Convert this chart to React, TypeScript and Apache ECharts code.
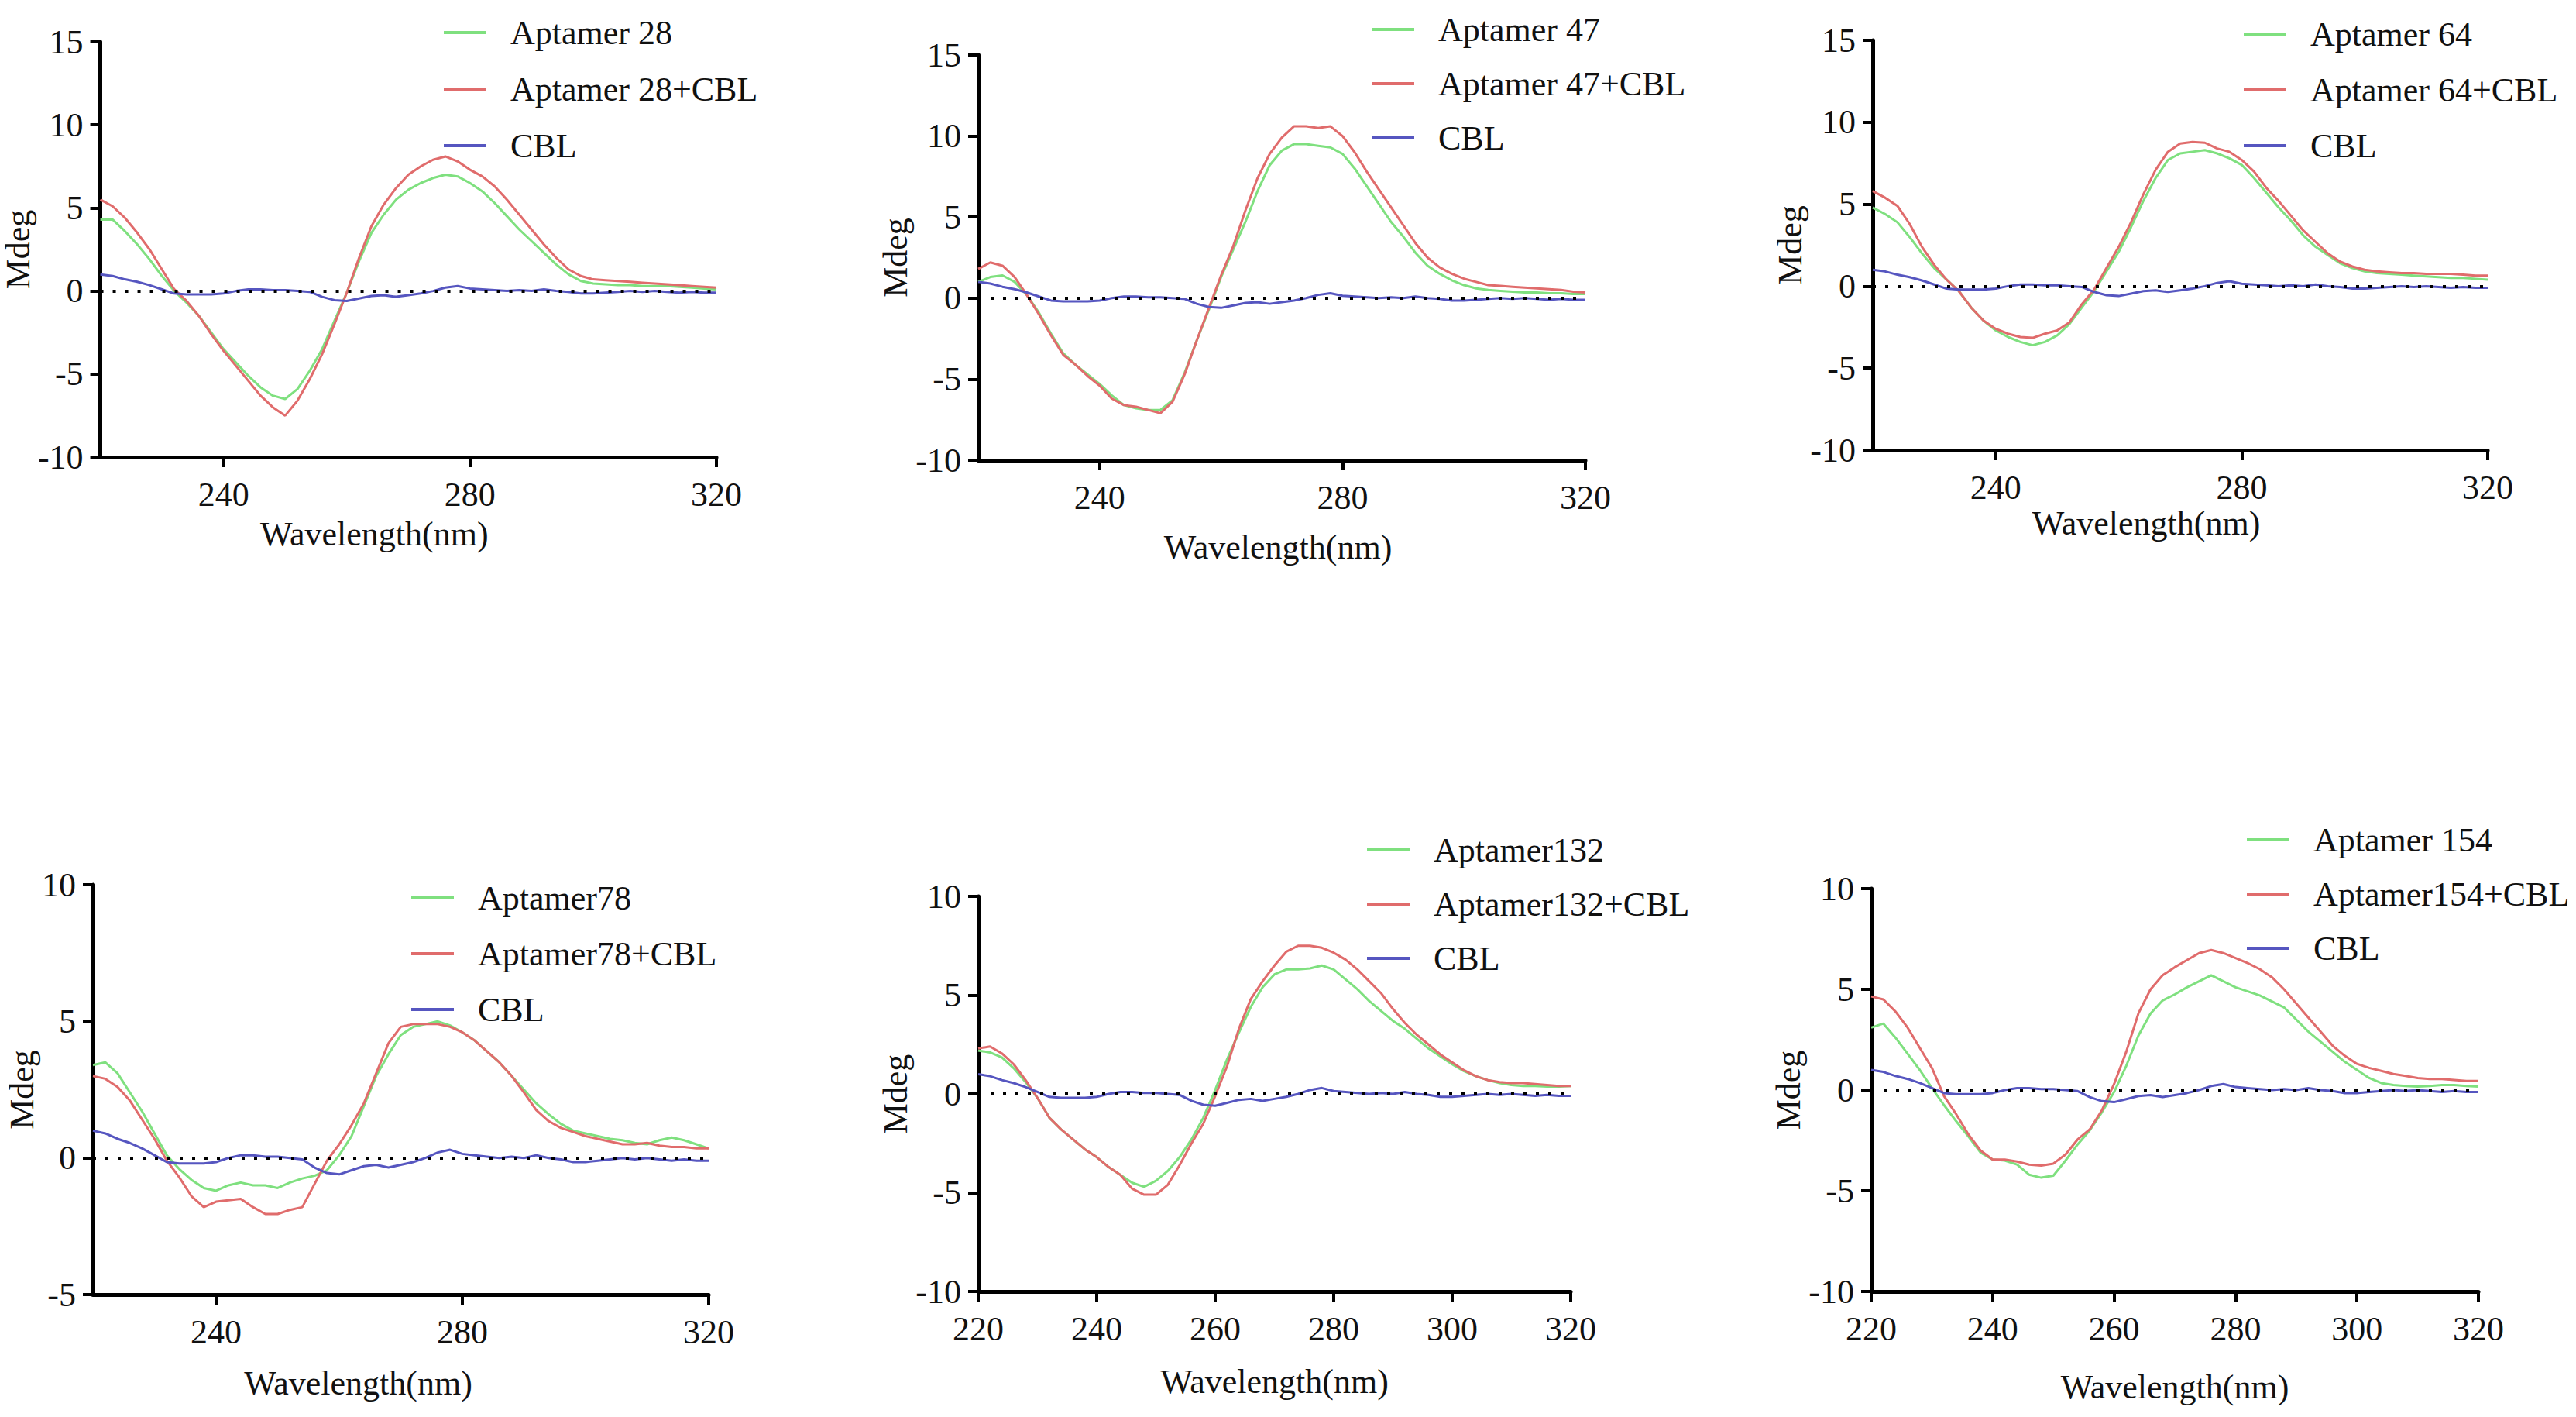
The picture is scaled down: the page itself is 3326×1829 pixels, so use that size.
import { useEffect, useRef } from "react";
import * as echarts from "echarts";

// wavelength grid (nm)
const wavelengths = [
  220, 222, 224, 226, 228, 230, 232, 234, 236, 238, 240, 242, 244, 246, 248, 250, 252,
  254, 256, 258, 260, 262, 264, 266, 268, 270, 272, 274, 276, 278, 280, 282, 284, 286,
  288, 290, 292, 294, 296, 298, 300, 302, 304, 306, 308, 310, 312, 314, 316, 318, 320,
];

// CBL alone, same trace in every panel
const cbl = [
  1.0, 0.9, 0.7, 0.55, 0.35, 0.1, -0.15, -0.2, -0.2, -0.2, -0.15, 0.0, 0.1, 0.1, 0.05, 0.05, 0.0,
  -0.05, -0.35, -0.55, -0.6, -0.45, -0.3, -0.25, -0.35, -0.25, -0.15, 0.0, 0.2, 0.3, 0.15, 0.1, 0.05, 0.0,
  0.05, 0.0, 0.1, 0.0, -0.05, -0.15, -0.15, -0.1, -0.05, 0.0, -0.05, 0.0, -0.05, -0.1, -0.05, -0.1, -0.1,
];

const apt28 = [
  4.3, 4.3, 3.6, 2.8, 1.9, 0.9, 0.0, -0.7, -1.5, -2.5, -3.5, -4.3, -5.1, -5.8, -6.3, -6.5, -5.9,
  -4.8, -3.5, -1.8, -0.1, 1.8, 3.5, 4.6, 5.5, 6.1, 6.5, 6.8, 7.0, 6.9, 6.5, 6.0, 5.3, 4.5,
  3.7, 3.0, 2.3, 1.6, 1.0, 0.6, 0.45, 0.4, 0.35, 0.35, 0.3, 0.3, 0.3, 0.25, 0.2, 0.15, 0.1,
];
const apt28Cbl = [
  5.5, 5.1, 4.4, 3.5, 2.5, 1.3, 0.1, -0.6, -1.5, -2.6, -3.6, -4.5, -5.4, -6.3, -7.0, -7.5, -6.6,
  -5.3, -3.8, -2.0, -0.1, 2.0, 3.9, 5.2, 6.2, 7.0, 7.5, 7.9, 8.1, 7.8, 7.3, 6.9, 6.3, 5.5,
  4.6, 3.7, 2.8, 2.0, 1.3, 0.9, 0.7, 0.65, 0.6, 0.55, 0.5, 0.45, 0.4, 0.35, 0.3, 0.25, 0.2,
];

const apt47 = [
  1.0, 1.3, 1.4, 1.0, 0.2, -0.9, -2.2, -3.4, -4.1, -4.7, -5.3, -6.0, -6.6, -6.8, -6.9, -6.9, -6.3,
  -4.6, -2.6, -0.7, 1.3, 3.0, 4.7, 6.6, 8.2, 9.1, 9.5, 9.5, 9.4, 9.3, 8.9, 8.0, 6.9, 5.8,
  4.7, 3.8, 2.8, 2.0, 1.5, 1.1, 0.8, 0.6, 0.5, 0.45, 0.4, 0.35, 0.35, 0.3, 0.3, 0.25, 0.25,
];
const apt47Cbl = [
  1.8, 2.2, 2.0, 1.3, 0.2, -1.0, -2.3, -3.5, -4.1, -4.8, -5.4, -6.2, -6.6, -6.7, -6.9, -7.1, -6.4,
  -4.7, -2.6, -0.6, 1.4, 3.2, 5.4, 7.4, 8.9, 9.9, 10.6, 10.6, 10.5, 10.6, 10.0, 9.0, 7.8, 6.7,
  5.6, 4.5, 3.4, 2.5, 1.9, 1.5, 1.2, 1.0, 0.8, 0.75, 0.7, 0.65, 0.6, 0.55, 0.5, 0.4, 0.35,
];

const apt64 = [
  4.8, 4.4, 3.9, 3.0, 2.0, 1.1, 0.4, -0.3, -1.3, -2.1, -2.7, -3.1, -3.4, -3.6, -3.4, -3.0, -2.3,
  -1.3, -0.3, 0.9, 2.1, 3.6, 5.2, 6.6, 7.7, 8.1, 8.2, 8.3, 8.1, 7.8, 7.4, 6.6, 5.7, 4.8,
  4.0, 3.1, 2.4, 1.9, 1.4, 1.1, 0.9, 0.8, 0.75, 0.7, 0.65, 0.6, 0.55, 0.5, 0.5, 0.45, 0.4,
];
const apt64Cbl = [
  5.8, 5.4, 4.9, 3.8, 2.4, 1.3, 0.4, -0.3, -1.3, -2.1, -2.6, -2.9, -3.1, -3.15, -2.9, -2.7, -2.2,
  -1.1, -0.2, 1.1, 2.4, 3.9, 5.6, 7.1, 8.2, 8.7, 8.8, 8.75, 8.4, 8.2, 7.7, 7.0, 6.0, 5.2,
  4.3, 3.4, 2.7, 2.0, 1.5, 1.2, 1.0, 0.9, 0.85, 0.8, 0.8, 0.75, 0.75, 0.75, 0.7, 0.65, 0.65,
];

const apt78 = [
  3.4, 3.5, 3.1, 2.4, 1.7, 0.9, 0.1, -0.4, -0.8, -1.1, -1.2, -1.0, -0.9, -1.0, -1.0, -1.1, -0.9,
  -0.75, -0.65, -0.45, 0.1, 0.8, 1.9, 3.0, 3.8, 4.5, 4.8, 4.9, 5.0, 4.85, 4.6, 4.3, 3.9, 3.5,
  3.0, 2.5, 2.0, 1.6, 1.25, 1.0, 0.9, 0.8, 0.7, 0.65, 0.55, 0.5, 0.65, 0.75, 0.65, 0.5, 0.35,
];
const apt78Cbl = [
  3.0, 2.9, 2.6, 2.1, 1.4, 0.7, -0.1, -0.7, -1.4, -1.8, -1.6, -1.55, -1.5, -1.8, -2.05, -2.05, -1.9,
  -1.8, -0.95, -0.1, 0.5, 1.2, 2.0, 3.1, 4.2, 4.8, 4.9, 4.9, 4.9, 4.8, 4.6, 4.3, 3.9, 3.5,
  3.0, 2.4, 1.75, 1.35, 1.1, 0.95, 0.8, 0.7, 0.6, 0.5, 0.5, 0.55, 0.45, 0.4, 0.4, 0.35, 0.35,
];

const apt132 = [
  2.2, 2.1, 1.85, 1.3, 0.6, -0.2, -1.2, -1.8, -2.3, -2.8, -3.2, -3.7, -4.1, -4.5, -4.7, -4.4, -3.9,
  -3.2, -2.3, -1.2, 0.2, 1.75, 3.1, 4.4, 5.4, 6.05, 6.3, 6.3, 6.35, 6.5, 6.3, 5.8, 5.3, 4.7,
  4.2, 3.7, 3.3, 2.8, 2.3, 1.9, 1.5, 1.15, 0.9, 0.7, 0.55, 0.45, 0.4, 0.4, 0.37, 0.37, 0.4,
];
const apt132Cbl = [
  2.3, 2.4, 2.05, 1.5, 0.7, -0.2, -1.2, -1.8, -2.3, -2.8, -3.2, -3.7, -4.1, -4.8, -5.1, -5.1, -4.6,
  -3.6, -2.5, -1.5, -0.1, 1.4, 3.3, 4.8, 5.7, 6.5, 7.2, 7.5, 7.5, 7.4, 7.15, 6.8, 6.3, 5.7,
  5.1, 4.3, 3.6, 3.0, 2.5, 2.0, 1.6, 1.2, 0.9, 0.7, 0.6, 0.55, 0.55, 0.5, 0.45, 0.4, 0.4,
];

const apt154 = [
  3.1, 3.3, 2.6, 1.8, 1.0, 0.1, -0.75, -1.55, -2.3, -3.1, -3.45, -3.5, -3.7, -4.2, -4.35, -4.25, -3.5,
  -2.7, -2.0, -1.1, -0.1, 1.2, 2.7, 3.8, 4.45, 4.75, 5.1, 5.4, 5.7, 5.4, 5.1, 4.9, 4.7, 4.4,
  4.1, 3.5, 2.9, 2.4, 1.9, 1.4, 1.0, 0.6, 0.35, 0.25, 0.2, 0.17, 0.2, 0.25, 0.25, 0.2, 0.17,
];
const apt154Cbl = [
  4.65, 4.5, 3.9, 3.1, 2.1, 1.1, -0.3, -1.2, -2.2, -3.0, -3.45, -3.45, -3.55, -3.7, -3.75, -3.65, -3.2,
  -2.45, -1.95, -1.0, 0.3, 1.9, 3.8, 5.0, 5.7, 6.1, 6.45, 6.8, 6.95, 6.8, 6.55, 6.3, 6.0, 5.6,
  5.0, 4.3, 3.6, 2.9, 2.2, 1.7, 1.3, 1.1, 0.95, 0.8, 0.7, 0.6, 0.55, 0.55, 0.5, 0.45, 0.45,
];

const sparseTicks = [240, 280, 320];
const fullTicks = [220, 240, 260, 280, 300, 320];

const GREEN = "#7fe07f";
const RED = "#e06c6c";
const BLUE = "#5656c0";
const FONT = "Liberation Serif";

const panels = [
  {
    grid: { left: 120, top: 54, width: 805, height: 536 },
    y: [-10, 15], ticks: sparseTicks,
    names: ["Aptamer 28", "Aptamer 28+CBL", "CBL"], green: apt28, red: apt28Cbl,
    legend: { left: 568, top: 15, gap: 29 }, xGap: 77, xShift: 44, yGap: 57,
  },
  {
    grid: { left: 1263, top: 71, width: 784, height: 523 },
    y: [-10, 15], ticks: sparseTicks,
    names: ["Aptamer 47", "Aptamer 47+CBL", "CBL"], green: apt47, red: apt47Cbl,
    legend: { left: 1766, top: 11, gap: 26 }, xGap: 90, xShift: 5, yGap: 55,
  },
  {
    grid: { left: 2418, top: 52, width: 794, height: 529 },
    y: [-10, 15], ticks: sparseTicks,
    names: ["Aptamer 64", "Aptamer 64+CBL", "CBL"], green: apt64, red: apt64Cbl,
    legend: { left: 2892, top: 17, gap: 28 }, xGap: 72, xShift: 44, yGap: 60,
  },
  {
    grid: { left: 120, top: 1142, width: 795, height: 529 },
    y: [-5, 10], ticks: sparseTicks,
    names: ["Aptamer78", "Aptamer78+CBL", "CBL"], green: apt78, red: apt78Cbl,
    legend: { left: 526, top: 1132, gap: 28 }, xGap: 92, xShift: 55, yGap: 60,
  },
  {
    grid: { left: 1263, top: 1157, width: 765, height: 510 },
    y: [-10, 10], ticks: fullTicks,
    names: ["Aptamer132", "Aptamer132+CBL", "CBL"], green: apt132, red: apt132Cbl,
    legend: { left: 1760, top: 1070, gap: 26 }, xGap: 94, xShift: 0, yGap: 58,
  },
  {
    grid: { left: 2416, top: 1147, width: 784, height: 520 },
    y: [-10, 10], ticks: fullTicks,
    names: ["Aptamer 154", "Aptamer154+CBL", "CBL"], green: apt154, red: apt154Cbl,
    legend: { left: 2896, top: 1057, gap: 26 }, xGap: 101, xShift: 0, yGap: 55,
  },
];

const toPairs = (values: number[]) => wavelengths.map((w, i) => [w, values[i]]);

export default function App() {
  const chartRef = useRef<HTMLDivElement>(null);

  useEffect(() => {
    if (!chartRef.current) return;
    document.body.style.margin = "0";

    const chart = echarts.init(chartRef.current, null, { renderer: "svg" });

    const axisLine = { show: true, onZero: false, lineStyle: { color: "#000", width: 5 } };
    const axisTick = { show: true, length: 13, lineStyle: { color: "#000", width: 4 } };
    const labelStyle = { fontFamily: FONT, fontSize: 44, color: "#111" };

    const grids: any[] = [];
    const xAxes: any[] = [];
    const yAxes: any[] = [];
    const legends: any[] = [];
    const series: any[] = [];

    panels.forEach((p, idx) => {
      grids.push({ ...p.grid, containLabel: false });
      xAxes.push({
        gridIndex: idx,
        type: "value",
        min: 220,
        max: 320,
        interval: 20,
        name: "Wavelength(nm)",
        nameLocation: "middle",
        nameGap: p.xGap,
        nameTextStyle: { ...labelStyle, padding: [0, p.xShift * 2, 0, 0] },
        axisLine,
        axisTick: { ...axisTick, customValues: p.ticks },
        axisLabel: { ...labelStyle, margin: 26, customValues: p.ticks },
        splitLine: { show: false },
      });
      yAxes.push({
        gridIndex: idx,
        type: "value",
        min: p.y[0],
        max: p.y[1],
        interval: 5,
        name: "Mdeg",
        nameLocation: "middle",
        nameGap: p.yGap,
        nameTextStyle: labelStyle,
        axisLine,
        axisTick,
        axisLabel: { ...labelStyle, margin: 22 },
        splitLine: { show: false },
      });
      legends.push({
        orient: "vertical",
        left: p.legend.left,
        top: p.legend.top,
        icon: "rect",
        itemWidth: 55,
        itemHeight: 4,
        itemGap: p.legend.gap,
        selectedMode: false,
        data: p.names,
        textStyle: { ...labelStyle, padding: [0, 0, 0, 26] },
      });

      const base = { type: "line", xAxisIndex: idx, yAxisIndex: idx, symbol: "none", silent: true };
      series.push({ ...base, name: p.names[0], data: toPairs(p.green), lineStyle: { color: GREEN, width: 3 }, itemStyle: { color: GREEN } });
      series.push({ ...base, name: p.names[1], data: toPairs(p.red), lineStyle: { color: RED, width: 3 }, itemStyle: { color: RED } });
      series.push({
        ...base,
        name: p.names[2],
        data: toPairs(cbl),
        lineStyle: { color: BLUE, width: 3 },
        itemStyle: { color: BLUE },
        markLine: {
          silent: true,
          symbol: "none",
          label: { show: false },
          lineStyle: { color: "#000", type: [4, 12], width: 4 },
          data: [{ yAxis: 0 }],
        },
      });
    });

    chart.setOption({
      animation: false,
      backgroundColor: "#fff",
      grid: grids,
      xAxis: xAxes,
      yAxis: yAxes,
      legend: legends,
      series,
    });

    const handleResize = () => chart.resize();
    window.addEventListener("resize", handleResize);

    return () => {
      window.removeEventListener("resize", handleResize);
      chart.dispose();
    };
  }, []);

  return <div ref={chartRef} style={{ width: "3326px", height: "1829px" }} />;
}
